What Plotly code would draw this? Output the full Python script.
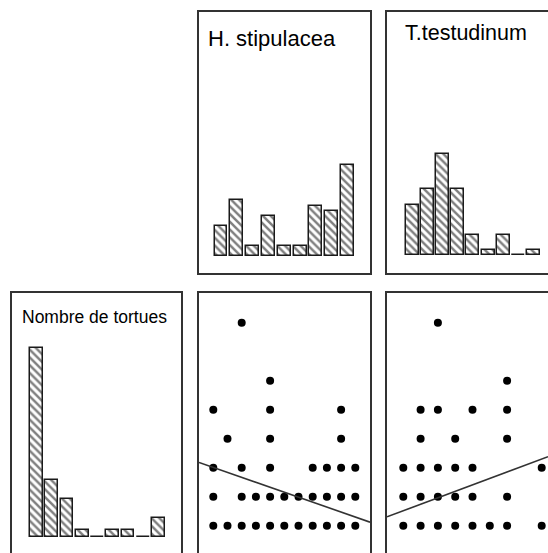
import plotly.graph_objects as go

W, H = 548, 553

# Histogram classes (9 bins per variable) and frequencies
classes = list(range(9))
freq_h_stipulacea = [6, 11, 2, 8, 2, 2, 10, 9, 18]
freq_t_testudinum = [10, 13, 20, 13, 4, 1, 4, 0, 1]
freq_tortues = [30, 9, 6, 1, 0, 1, 1, 0, 3]

# Turtle counts against H. stipulacea class (one entry per point)
h_stip_x = [0, 1, 2, 3, 4, 5, 6, 7, 8, 9, 10,
            0, 2, 3, 4, 5, 6, 7, 8, 9, 10,
            0, 2, 4, 7, 8, 9, 10,
            1, 4, 9,
            0, 4, 9,
            4,
            2]
h_stip_tortues = [0] * 11 + [1] * 10 + [2] * 7 + [3] * 3 + [4] * 3 + [5] + [7]

# Turtle counts against T. testudinum class
t_test_x = [0, 1, 2, 3, 4, 5, 6, 8,
            0, 1, 2, 3, 4, 6,
            0, 1, 2, 3, 4, 8,
            1, 3, 6,
            1, 2, 4, 6,
            6,
            2]
t_test_tortues = [0] * 8 + [1] * 6 + [2] * 6 + [3] * 3 + [4] * 4 + [5] + [7]

# Linear fits (intercept, slope)
fit_h = (2.01, -0.171)
fit_t = (0.516, 0.2225)

# ---- panel geometry (pixels) ----
def xdom(a, b):
    return [a / W, min(b / W, 1.0)]

def ydom(top, bottom):
    return [max(1 - bottom / H, 0.0), 1 - top / H]

ranges = {
    "A": ([-1.391, 9.418], [-3.366, 48.32]),
    "B": ([-1.645, 8.947], [-3.564, 48.12]),
    "C": ([-1.607, 9.475], [-2.587, 38.68]),
    "D": ([-1.007, 11.035], [-0.941, 8.024]),
    "E": ([-0.942, 8.364], [-0.941, 8.024]),
}

hatch = dict(shape="\\", size=5.5, solidity=0.45, fgcolor="black", bgcolor="white")
bar_line = dict(color="#1a1a1a", width=1.5)

fig = go.Figure()

fig.add_trace(go.Bar(x=classes, y=freq_h_stipulacea, width=0.82,
                     marker=dict(color="white", pattern=hatch, line=bar_line),
                     xaxis="x", yaxis="y"))
fig.add_trace(go.Bar(x=classes, y=freq_t_testudinum, width=0.855,
                     marker=dict(color="white", pattern=hatch, line=bar_line),
                     xaxis="x2", yaxis="y2"))
fig.add_trace(go.Bar(x=classes, y=freq_tortues, width=0.85,
                     marker=dict(color="white", pattern=hatch, line=bar_line),
                     xaxis="x3", yaxis="y3"))

dot = dict(color="black", size=8)
fig.add_trace(go.Scatter(x=h_stip_x, y=h_stip_tortues, mode="markers",
                         marker=dot, xaxis="x4", yaxis="y4"))
fig.add_trace(go.Scatter(x=t_test_x, y=t_test_tortues, mode="markers",
                         marker=dot, xaxis="x5", yaxis="y5"))

# fitted lines across each panel's full width
for (b0, b1), key, xa, ya in [(fit_h, "D", "x4", "y4"), (fit_t, "E", "x5", "y5")]:
    xr = ranges[key][0]
    fig.add_trace(go.Scatter(x=xr, y=[b0 + b1 * xr[0], b0 + b1 * xr[1]],
                             mode="lines", line=dict(color="#333", width=1.6),
                             xaxis=xa, yaxis=ya))

frame = dict(showline=True, linecolor="#333", linewidth=1.6,
             showgrid=False, zeroline=False, showticklabels=False, ticks="")

def ax(rng, dom, **kw):
    d = dict(frame)
    d.update(range=rng, domain=dom, fixedrange=True)
    d.update(kw)
    return d

layout = dict(
    width=W, height=H, margin=dict(l=0, r=0, t=0, b=0),
    paper_bgcolor="white", plot_bgcolor="white", showlegend=False,
    bargap=0,
    xaxis=ax(ranges["A"][0], xdom(199, 370), mirror=True, anchor="y"),
    yaxis=ax(ranges["A"][1], ydom(12, 273), mirror=True, anchor="x"),
    xaxis2=ax(ranges["B"][0], xdom(387, 548), mirror=True, anchor="y2"),
    yaxis2=ax(ranges["B"][1], ydom(12, 273), anchor="x2"),
    xaxis3=ax(ranges["C"][0], xdom(12, 181), side="top", anchor="y3"),
    yaxis3=ax(ranges["C"][1], ydom(293, 553), mirror=True, anchor="x3"),
    xaxis4=ax(ranges["D"][0], xdom(199, 370), side="top", anchor="y4"),
    yaxis4=ax(ranges["D"][1], ydom(293, 553), mirror=True, anchor="x4"),
    xaxis5=ax(ranges["E"][0], xdom(387, 548), side="top", anchor="y5"),
    yaxis5=ax(ranges["E"][1], ydom(293, 553), anchor="x5"),
)
fig.update_layout(**layout)

def label(text, x, y, size):
    fig.add_annotation(text=text, x=x / W, y=1 - y / H, xref="paper", yref="paper",
                       xanchor="left", yanchor="middle", showarrow=False,
                       font=dict(family="Liberation Sans, Arial", size=size, color="black"))

label("H. stipulacea", 206, 38, 22)
label("T.testudinum", 403, 33.5, 21.5)
label("Nombre de tortues", 20, 317, 17.5)

fig.write_html("out.html")
